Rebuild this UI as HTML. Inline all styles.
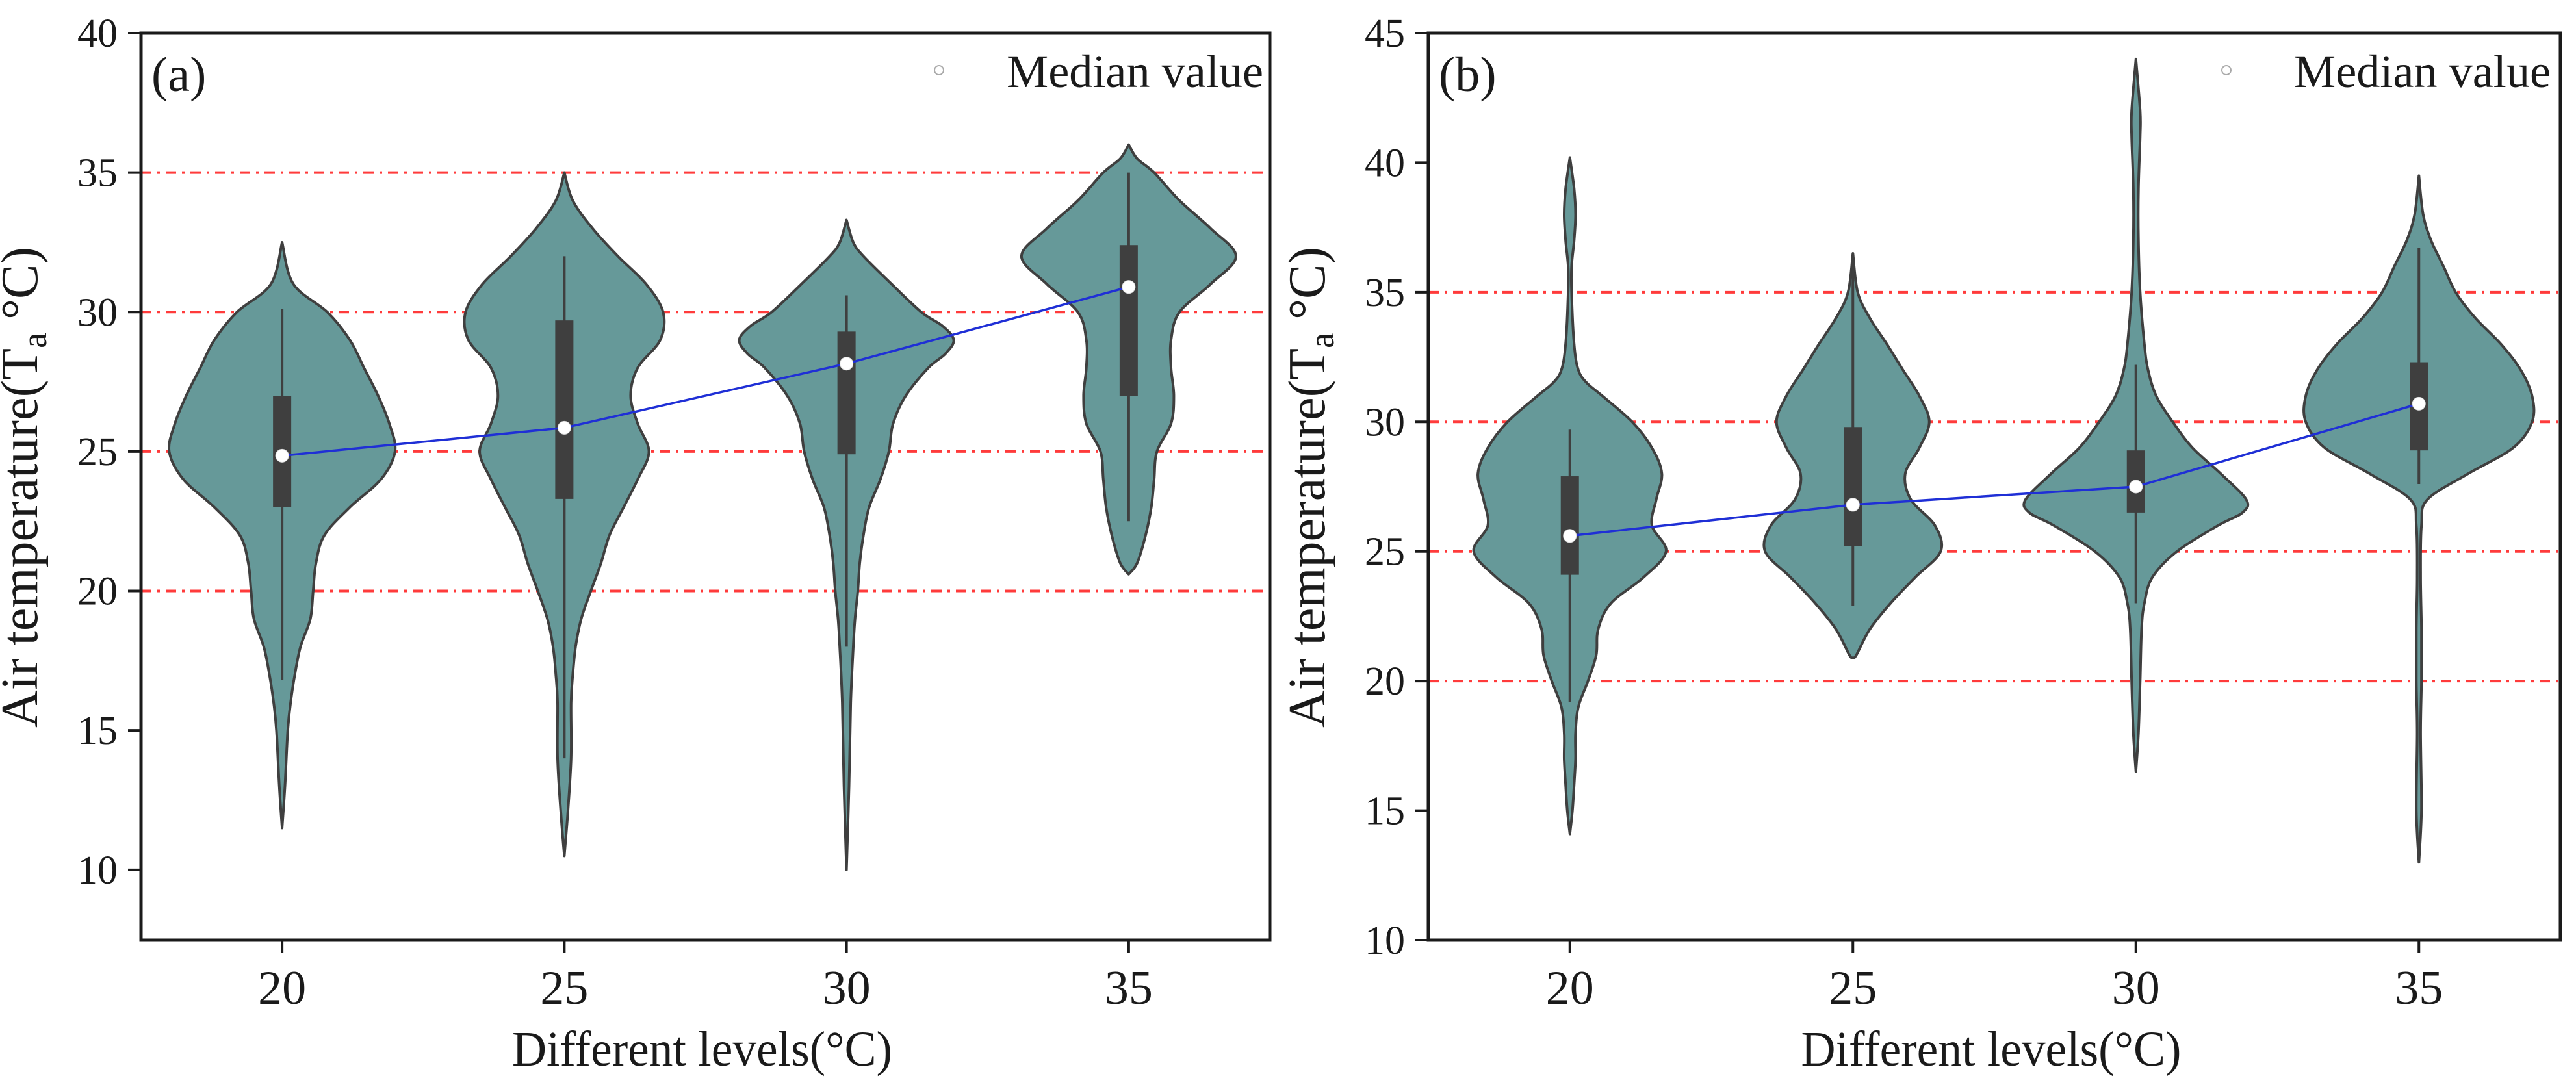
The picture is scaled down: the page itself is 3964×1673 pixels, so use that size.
<!DOCTYPE html>
<html><head><meta charset="utf-8"><style>
html,body{margin:0;padding:0;background:#fff;}
svg{display:block;}
text{font-family:"Liberation Serif",serif;fill:#1a1a1a;}
</style></head><body>
<svg id="chart" width="3964" height="1673" viewBox="0 0 3964 1673" xmlns="http://www.w3.org/2000/svg"></svg>
<script>
const levels = ["20","25","30","35"];
const refLines = [20,25,30,35];
// Panel (a)
const ticksA = [10,15,20,25,30,35,40];
const violinTempsA = [
 [32.5,31,30,29,28,27,26,25,24,23,22,21,20,19,18,17,16,15,13,11.5],
 [35,34,33,32,31,30,29,28,27,26,25,24,23,22,21,20,19,18,17,16,14,12,10.5],
 [33.3,32.5,32,31,30,29.5,29,28.5,28,27,26,25,24,23,22,21,20,19,18,16,13,10],
 [36,35.5,35,34,33,32,31,30,29,28,27,26,25,24,23,22,21,20.6]
];
const violinWidthsA = [
 [0,.04,.16,.24,.29,.34,.38,.40,.35,.24,.15,.12,.11,.10,.065,.045,.03,.02,.01,0],
 [0,.03,.10,.19,.29,.35,.34,.26,.235,.26,.30,.26,.21,.16,.13,.094,.06,.04,.03,.024,.024,.012,0],
 [0,.024,.06,.16,.265,.34,.38,.35,.29,.21,.165,.15,.12,.08,.06,.047,.04,.03,.024,.015,.009,0],
 [0,.03,.09,.18,.29,.38,.29,.18,.15,.15,.16,.15,.10,.09,.08,.06,.03,0]
];
const q1A = [23,23.3,24.9,27];
const q3A = [27,29.7,29.3,32.4];
const medianA = [24.85,25.85,28.15,30.9];
const whiskLoA = [16.8,14,18,22.5];
const whiskHiA = [30.1,32,30.6,35];
// Panel (b)
const ticksB = [10,15,20,25,30,35,40,45];
const violinTempsB = [
 [40.2,39,38,37,36,35,33,32,31.5,31,30,29,28,27,26,25,24,23,22,21,20,19,18,17,16,15,14.1],
 [36.5,35,34,33,32,31,30,29,28,27,26,25,24,23,22,21,20.9],
 [44,42,41,39,37,35,33,32,31,30,29,28,27,26.5,26,25,24,23,22,20,18,16.5],
 [39.5,38,37,36,35,34,33,32,31,30,29,28,27,26,24,22,20,18,15,13]
];
const violinWidthsB = [
 [0,.015,.02,.015,.006,.006,.015,.03,.06,.115,.22,.29,.325,.305,.29,.34,.26,.145,.10,.093,.064,.03,.02,.02,.015,.009,0],
 [0,.017,.06,.12,.177,.235,.27,.235,.185,.205,.29,.31,.22,.133,.06,.012,0],
 [0,.015,.015,.009,.009,.015,.03,.043,.072,.13,.2,.3,.39,.377,.29,.145,.058,.03,.02,.015,.009,0],
 [0,.015,.043,.087,.13,.2,.29,.36,.4,.4,.333,.174,.03,.009,.006,.009,.009,.006,.009,0]
];
const q1B = [24.1,25.2,26.5,28.9];
const q3B = [27.9,29.8,28.9,32.3];
const medianB = [25.6,26.8,27.5,30.7];
const whiskLoB = [19.2,22.9,23,27.6];
const whiskHiB = [29.7,36,32.2,36.7];

const NS = "http://www.w3.org/2000/svg";
const svg = document.getElementById("chart");
function mk(tag, attrs, parent){
  const e = document.createElementNS(NS, tag);
  for (const k in attrs) e.setAttribute(k, attrs[k]);
  (parent||svg).appendChild(e);
  return e;
}
function smoothPath(pts){
  let d = "M"+pts[0][0].toFixed(1)+","+pts[0][1].toFixed(1);
  for (let i=0;i<pts.length-1;i++){
    const p0=pts[Math.max(0,i-1)], p1=pts[i], p2=pts[i+1], p3=pts[Math.min(pts.length-1,i+2)];
    const c1=[p1[0]+(p2[0]-p0[0])/6, p1[1]+(p2[1]-p0[1])/6];
    const c2=[p2[0]-(p3[0]-p1[0])/6, p2[1]-(p3[1]-p1[1])/6];
    d += " C"+c1[0].toFixed(1)+","+c1[1].toFixed(1)+" "+c2[0].toFixed(1)+","+c2[1].toFixed(1)+" "+p2[0].toFixed(1)+","+p2[1].toFixed(1);
  }
  return d;
}

function panel(cfg){
  const g = mk("g", {});
  
  
  const L=cfg.left, R=cfg.right, T=51, B=1447;
  const catW=(R-L)/levels.length;
  const xPos = i => L + catW*(i+0.5);
  const yPos = v => B - (v-cfg.ymin)/(cfg.ymax-cfg.ymin)*(B-T);

  // reference lines
  refLines.forEach(v=>{
    const l = mk("line",{x1:L,x2:R,y1:yPos(v),y2:yPos(v),stroke:"#ff3b3b","stroke-width":4,"stroke-dasharray":"16,9,4,9"},g);
    
    
  });

  // violins
  cfg.temps.forEach((ts,i)=>{
    const ws = cfg.widths[i];
    const cx = xPos(i);
    const right = ts.map((t,k)=>[cx+ws[k]*catW, yPos(t)]);
    const left = ts.map((t,k)=>[cx-ws[k]*catW, yPos(t)]).reverse();
    const d = smoothPath(right) + " L" + smoothPath(left).slice(1) + " Z";
    const p = mk("path",{d:d,fill:"#669999",stroke:"#3f3f3f","stroke-width":4,"stroke-linejoin":"round"},g);
    
    
    const w = mk("line",{x1:cx,x2:cx,y1:yPos(cfg.wlo[i]),y2:yPos(cfg.whi[i]),stroke:"#3f3f3f","stroke-width":4},g);
    
    
    const b = mk("rect",{x:cx-14,width:28,y:yPos(cfg.q3[i]),height:yPos(cfg.q1[i])-yPos(cfg.q3[i]),fill:"#3f3f3f"},g);
    
    
  });

  // median line
  const ml = mk("polyline",{points:cfg.med.map((m,i)=>xPos(i)+","+yPos(m)).join(" "),fill:"none",stroke:"#1f2fd6","stroke-width":3.5},g);
  
  
  cfg.med.forEach((m,i)=>{
    const c = mk("circle",{cx:xPos(i),cy:yPos(m),r:10,fill:"#ffffff",stroke:"#dddddd","stroke-width":1},g);
    
    
  });

  // axes frame
  const fr = mk("rect",{x:L,y:T,width:R-L,height:B-T,fill:"none",stroke:"#1a1a1a","stroke-width":5},g);
  
  

  // y ticks
  cfg.yticks.forEach(v=>{
    const y=yPos(v);
    const t = mk("line",{x1:L-20,x2:L,y1:y,y2:y,stroke:"#1a1a1a","stroke-width":4},g);
    
    
    const tx = mk("text",{x:L-36,y:y+21,"font-size":62,"text-anchor":"end"},g);
    tx.textContent = v;
    
    
  });
  // x ticks
  levels.forEach((lv,i)=>{
    const x=xPos(i);
    const t = mk("line",{x1:x,x2:x,y1:B,y2:B+20,stroke:"#1a1a1a","stroke-width":4},g);
    
    
    const tx = mk("text",{x:x,y:1545,"font-size":74,"text-anchor":"middle"},g);
    tx.textContent = lv;
    
    
  });

  // axis titles
  const xt = mk("text",{x:(L+R)/2-5,y:1640,"font-size":76,"text-anchor":"middle",textLength:585,lengthAdjust:"spacingAndGlyphs"},g);
  xt.textContent = "Different levels(°C)";
  
  
  const yt = mk("text",{x:0,y:0,"font-size":80,"text-anchor":"middle",transform:"translate("+(cfg.left-160)+",750) rotate(-90)"},g);
  
  
  yt.innerHTML = 'Air temperature(T<tspan font-size="54" dy="14">a</tspan><tspan dy="-14"> °C)</tspan>';

  // panel label
  const pl = mk("text",{x:L+16,y:140,"font-size":76},g);
  pl.textContent = cfg.label;
  
  

  // legend
  const lc = mk("circle",{cx:cfg.legX,cy:108,r:7,fill:"#ffffff",stroke:"#aaaaaa","stroke-width":2},g);
  
  
  const lt = mk("text",{x:cfg.legX+104,y:134,"font-size":72,textLength:395,lengthAdjust:"spacingAndGlyphs"},g);
  lt.textContent = "Median value";
  
  
}

panel({name:"panel-a",label:"(a)",left:217,right:1954,ymin:7.48,ymax:40,yticks:ticksA,
  temps:violinTempsA,widths:violinWidthsA,q1:q1A,q3:q3A,med:medianA,wlo:whiskLoA,whi:whiskHiA,legX:1445});
panel({name:"panel-b",label:"(b)",left:2198,right:3940,ymin:10,ymax:45,yticks:ticksB,
  temps:violinTempsB,widths:violinWidthsB,q1:q1B,q3:q3B,med:medianB,wlo:whiskLoB,whi:whiskHiB,legX:3426});
</script>
</body></html>
